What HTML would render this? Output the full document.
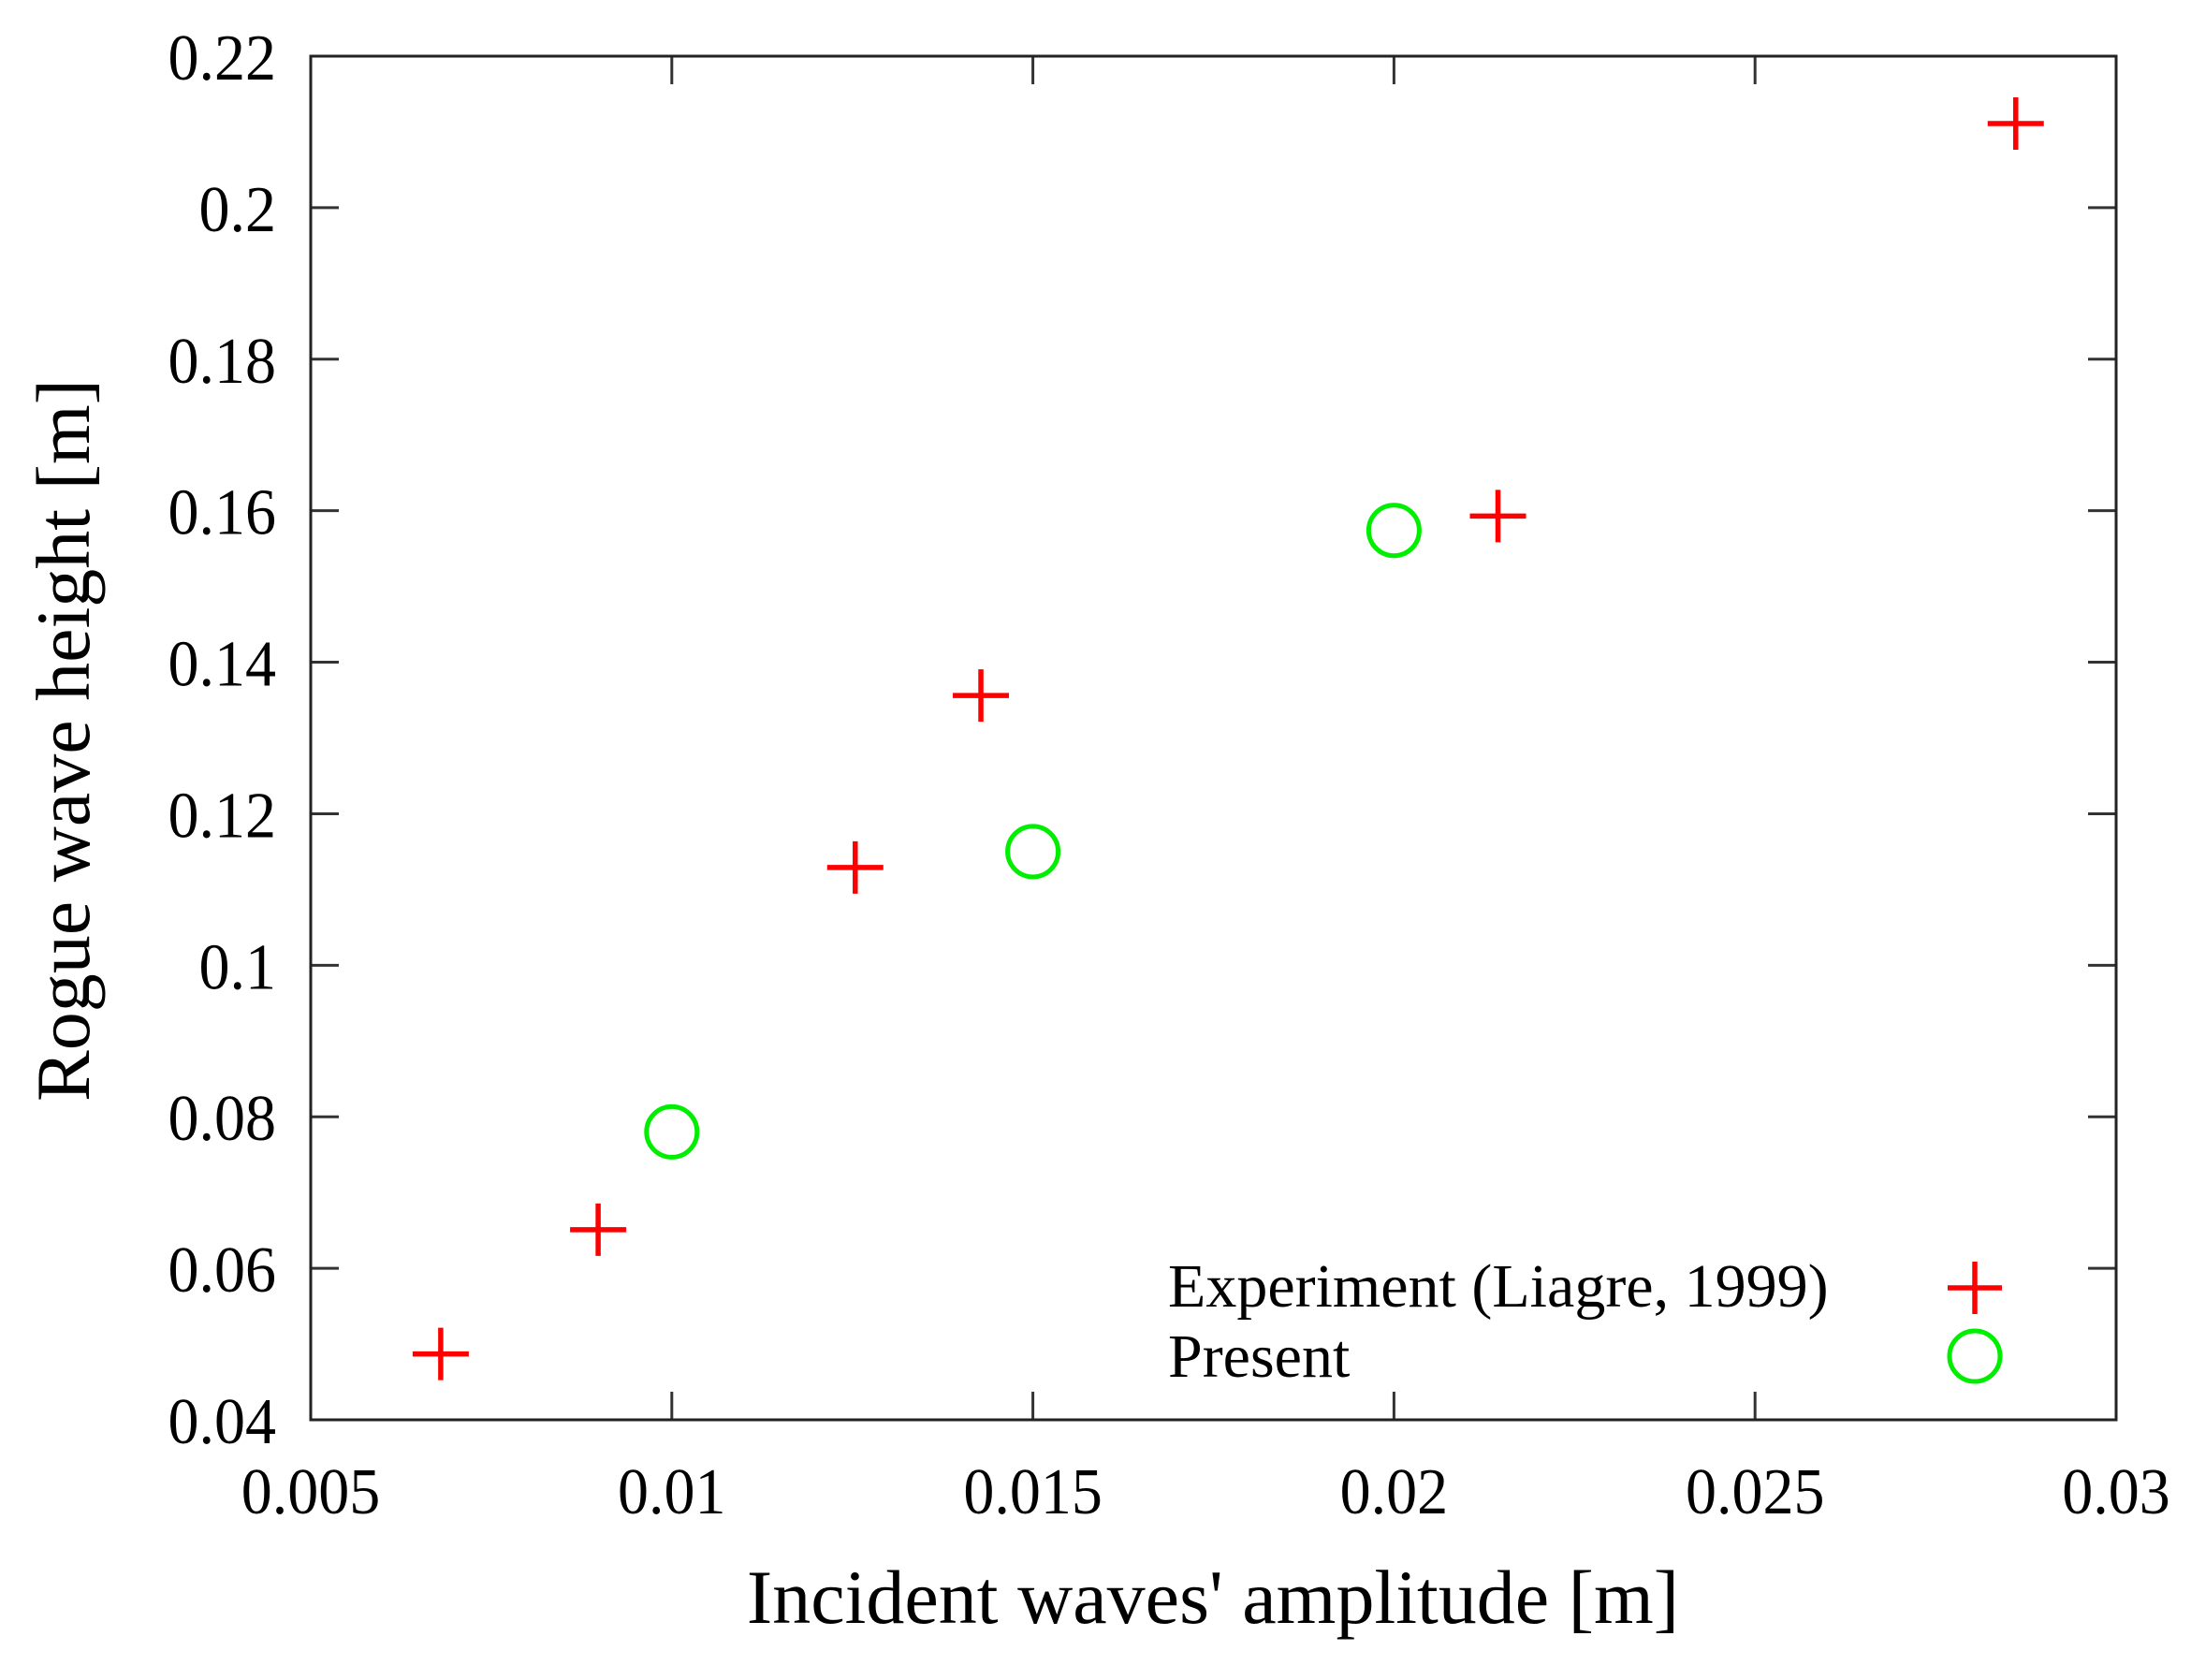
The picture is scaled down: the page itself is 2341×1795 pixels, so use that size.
<!DOCTYPE html>
<html><head><meta charset="utf-8"><style>
html,body{margin:0;padding:0;background:#fff;}
svg{display:block;font-family:"Liberation Serif",serif;}
</style></head><body>
<svg id="chart" width="2341" height="1795" viewBox="0 0 2341 1795">
<rect width="2341" height="1795" fill="#fff"/>
<g id="ticks"></g>
<g id="marks"></g>
<rect x="332" y="60" width="1929" height="1457" fill="none" stroke="#222" stroke-width="3"/>
<text x="1296" y="1734" font-size="82" text-anchor="middle" fill="#000">Incident waves' amplitude [m]</text>
<text transform="translate(95,791) rotate(-90)" font-size="82" text-anchor="middle" fill="#000">Rogue wave height [m]</text>
<g>
<text x="1248" y="1396" font-size="66" fill="#000">Experiment (Liagre, 1999)</text>
<text x="1248" y="1471" font-size="66" fill="#000">Present</text>
<path d="M2081 1376H2139M2110 1348V1404" stroke="#f00" stroke-width="5.5" fill="none"/>
<circle cx="2110" cy="1449" r="27" stroke="#0e0" stroke-width="5" fill="none"/>
</g>
</svg>
<script>
const xTicks = [0.005, 0.01, 0.015, 0.02, 0.025, 0.03];
const xTickLabels = ["0.005", "0.01", "0.015", "0.02", "0.025", "0.03"];
const yTicks = [0.04, 0.06, 0.08, 0.1, 0.12, 0.14, 0.16, 0.18, 0.2, 0.22];
const yTickLabels = ["0.04", "0.06", "0.08", "0.1", "0.12", "0.14", "0.16", "0.18", "0.2", "0.22"];
const expX = [0.0068, 0.00898, 0.01254, 0.01428, 0.02144, 0.02861];
const expY = [0.0487, 0.0651, 0.1129, 0.1356, 0.1593, 0.2111];
const presX = [0.010, 0.015, 0.020];
const presY = [0.078, 0.115, 0.1574];

const L = 332, R = 2261, T = 60, B = 1517;
function sx(v){ return L + (v - 0.005) / (0.03 - 0.005) * (R - L); }
function sy(v){ return B - (v - 0.04) / (0.22 - 0.04) * (B - T); }
const NS = "http://www.w3.org/2000/svg";
function mk(tag, attrs, parent){
  const e = document.createElementNS(NS, tag);
  for (const k in attrs) e.setAttribute(k, attrs[k]);
  parent.appendChild(e);
  return e;
}
const tg = document.getElementById('ticks');
const mg = document.getElementById('marks');
xTicks.forEach((v, i) => {
  const x = sx(v);
  const t = mk('path', {d: `M${x} ${B}V${B-30}M${x} ${T}V${T+30}`, stroke: '#333', 'stroke-width': 3, fill: 'none'}, tg);
  
  
  const lb = mk('text', {x: 0, y: 0, 'font-size': 66, 'text-anchor': 'middle', fill: '#000', transform: `translate(${x},1617) scale(1,1.06)`}, tg);
  lb.textContent = xTickLabels[i];
  
  
});
yTicks.forEach((v, i) => {
  const y = sy(v);
  const t = mk('path', {d: `M${L} ${y}H${L+30}M${R} ${y}H${R-30}`, stroke: '#333', 'stroke-width': 3, fill: 'none'}, tg);
  
  
  const lb = mk('text', {x: 0, y: 0, 'font-size': 66, 'text-anchor': 'end', fill: '#000', transform: `translate(295,${y + 25}) scale(1,1.06)`}, tg);
  lb.textContent = yTickLabels[i];
  
  
});
expX.forEach((v, i) => {
  const x = sx(v), y = sy(expY[i]);
  const p = mk('path', {d: `M${x-30} ${y}H${x+30}M${x} ${y-28}V${y+28}`, stroke: '#f00', 'stroke-width': 5.5, fill: 'none'}, mg);
  
  
});
presX.forEach((v, i) => {
  const c = mk('circle', {cx: sx(v), cy: sy(presY[i]), r: 27, stroke: '#0e0', 'stroke-width': 5, fill: 'none'}, mg);
  
  
});
</script>
</body></html>
